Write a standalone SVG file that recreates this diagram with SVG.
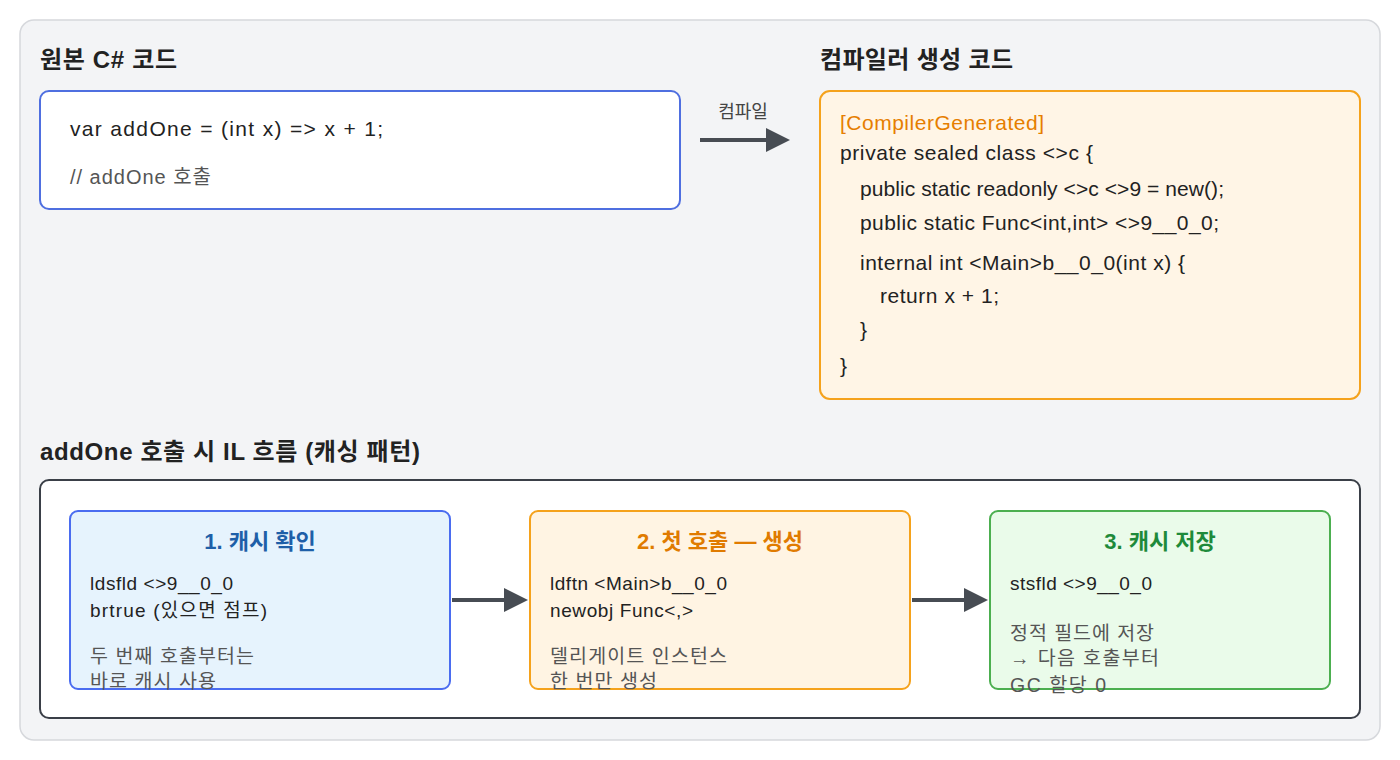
<svg xmlns="http://www.w3.org/2000/svg" width="1400" height="760" viewBox="0 0 1400 760">
<defs>
<marker id="ah" markerWidth="6" markerHeight="6" refX="5" refY="3" orient="auto" markerUnits="strokeWidth"><path d="M0,0 L6,3 L0,6 Z" fill="#474c53"/></marker>
<style>
text{font-family:"Liberation Sans","Noto Sans CJK KR",sans-serif;fill:#222}
.h{font-size:24px;font-weight:bold}
.c{font-size:21px}
.m{font-size:20px;fill:#555}
.t{font-size:22px;font-weight:bold;text-anchor:middle}
.s{font-size:19px}
.g{font-size:19.5px;fill:#555}
.con{stroke:#474c53;stroke-width:4;fill:none;marker-end:url(#ah)}
</style>
</defs>
<rect x="20" y="20" width="1360" height="720" rx="14" fill="#f3f4f6" stroke="#d6d8dc" stroke-width="1.5"/>
<text class="h" x="40" y="68" textLength="137">원본 C# 코드</text>
<text class="h" x="820" y="68" textLength="193">컴파일러 생성 코드</text>
<text class="h" x="40" y="460" textLength="380">addOne 호출 시 IL 흐름 (캐싱 패턴)</text>
<g id="src">
<rect x="40" y="91" width="640" height="118" rx="9" fill="#fff" stroke="#4f6fe0" stroke-width="2"/>
<text class="c" x="70" y="136" textLength="313">var addOne = (int x) =&gt; x + 1;</text>
<text class="m" x="70" y="184" textLength="141">// addOne 호출</text>
</g>
<g id="gen">
<rect x="820" y="91" width="540" height="308" rx="10" fill="#fff5e6" stroke="#f5a21c" stroke-width="2"/>
<text class="c" x="840" y="130" style="fill:#e67e00" textLength="204">[CompilerGenerated]</text>
<text class="c" x="840" y="160" textLength="253">private sealed class &lt;&gt;c {</text>
<text class="c" x="860" y="196" textLength="364">public static readonly &lt;&gt;c &lt;&gt;9 = new();</text>
<text class="c" x="860" y="230" textLength="359">public static Func&lt;int,int&gt; &lt;&gt;9__0_0;</text>
<text class="c" x="860" y="270" textLength="325">internal int &lt;Main&gt;b__0_0(int x) {</text>
<text class="c" x="880" y="303" textLength="119">return x + 1;</text>
<text class="c" x="860" y="337">}</text>
<text class="c" x="840" y="373">}</text>
</g>
<rect x="40" y="480" width="1320" height="238" rx="9" fill="#fff" stroke="#3a3f47" stroke-width="2"/>
<g id="step1">
<rect x="70" y="511" width="380" height="178" rx="8" fill="#e6f3fd" stroke="#4a6cf0" stroke-width="2"/>
<text class="t" x="260" y="549" style="fill:#1e5fa8">1. 캐시 확인</text>
<text class="s" x="90" y="590" textLength="143">ldsfld &lt;&gt;9__0_0</text>
<text class="s" x="90" y="617" textLength="177">brtrue (있으면 점프)</text>
<text class="g" x="90" y="663" textLength="164">두 번째 호출부터는</text>
<text class="g" x="90" y="688" textLength="126">바로 캐시 사용</text>
</g>
<g id="step2">
<rect x="530" y="511" width="380" height="178" rx="8" fill="#fff4e3" stroke="#f5a21c" stroke-width="2"/>
<text class="t" x="720" y="549" style="fill:#e07b00">2. 첫 호출 — 생성</text>
<text class="s" x="550" y="590" textLength="177">ldftn &lt;Main&gt;b__0_0</text>
<text class="s" x="550" y="617" textLength="143">newobj Func&lt;,&gt;</text>
<text class="g" x="550" y="663" textLength="177">델리게이트 인스턴스</text>
<text class="g" x="550" y="688" textLength="107">한 번만 생성</text>
</g>
<g id="step3">
<rect x="990" y="511" width="340" height="178" rx="8" fill="#eafbea" stroke="#4caf50" stroke-width="2"/>
<text class="t" x="1160" y="549" style="fill:#1e8a3a">3. 캐시 저장</text>
<text class="s" x="1010" y="590" textLength="142">stsfld &lt;&gt;9__0_0</text>
<text class="g" x="1010" y="640" textLength="144">정적 필드에 저장</text>
<text class="g" x="1010" y="665" textLength="149">→ 다음 호출부터</text>
<text class="g" x="1010" y="692" textLength="96">GC 할당 0</text>
</g>
<g id="connectors">
<line class="con" x1="700" y1="140" x2="786" y2="140"/>
<text x="743" y="118" style="font-size:18px;fill:#444;text-anchor:middle">컴파일</text>
<line class="con" x1="452" y1="600" x2="524" y2="600"/>
<line class="con" x1="912" y1="600" x2="984" y2="600"/>
</g>
</svg>
